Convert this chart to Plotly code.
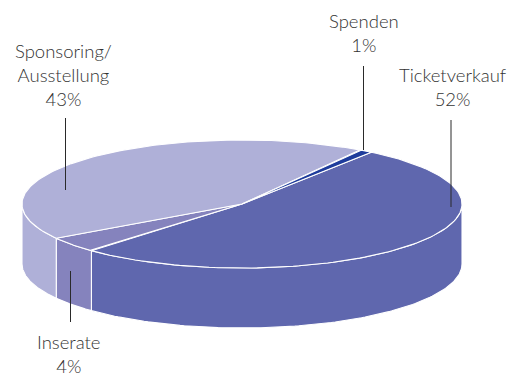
import numpy as np
import plotly.graph_objects as go

# Revenue shares, listed clockwise from the start angle
categories = ["Ticketverkauf", "Inserate", "Sponsoring/<br>Ausstellung", "Spenden"]
shares = [52, 4, 43, 1]
colors = ["#5F67AE", "#8583BD", "#AFB0D8", "#1E3C9C"]

# Pie geometry in page pixels
CX, CY, RX, RY, DEPTH = 242, 204, 220, 64, 60
START_ANGLE = 54

# Label anchors and their leader lines
label_xy = [(452, 87), (69, 354), (63, 75), (364, 33)]
leaders = [(451, 120, 207), (70.5, 271, 322), (65.5, 118, 190), (363.5, 66, 150)]

WIDTH, HEIGHT = 510, 376


def rim(a0, a1, n=120):
    t = np.radians(np.linspace(a0, a1, n))
    return CX + RX * np.cos(t), CY - RY * np.sin(t)


fig = go.Figure()
edges = np.concatenate([[0], np.cumsum(shares)]) * 3.6
spans = [(START_ANGLE - edges[i], START_ANGLE - edges[i + 1]) for i in range(len(shares))]


def area(x, y, color):
    fig.add_trace(go.Scatter(x=x, y=y, mode="lines", fill="toself", fillcolor=color,
                             line=dict(color="white", width=1.1), hoverinfo="skip",
                             showlegend=False))


# Side walls exist only on the front half of the disc (angles -180..0)
for (a0, a1), color in zip(spans, colors):
    for shift in (0, -360):
        lo, hi = max(a1 + shift, -180), min(a0 + shift, 0)
        if hi > lo:
            x, y = rim(hi, lo)
            area(np.concatenate([x, x[::-1], x[:1]]),
                 np.concatenate([y, y[::-1] + DEPTH, y[:1]]), color)

# Top face wedges
for (a0, a1), color in zip(spans, colors):
    x, y = rim(a0, a1)
    area(np.concatenate([[CX], x, [CX]]), np.concatenate([[CY], y, [CY]]), color)

for x, y0, y1 in leaders:
    fig.add_shape(type="line", x0=x, x1=x, y0=y0, y1=y1,
                  line=dict(color="#2a2a2a", width=1))

for name, share, (x, y) in zip(categories, shares, label_xy):
    fig.add_annotation(x=x, y=y, text=f"{name}<br>{share}%", showarrow=False,
                       align="center", xanchor="center", yanchor="middle",
                       font=dict(family="Lato", size=18.5, color="#333333", weight=300))

fig.update_layout(
    width=WIDTH, height=HEIGHT, margin=dict(l=0, r=0, t=0, b=0),
    paper_bgcolor="white", plot_bgcolor="white", showlegend=False,
    xaxis=dict(range=[0, WIDTH], visible=False, fixedrange=True),
    yaxis=dict(range=[HEIGHT, 0], visible=False, fixedrange=True),
)
fig.write_html("out.html", config={"displayModeBar": False})
